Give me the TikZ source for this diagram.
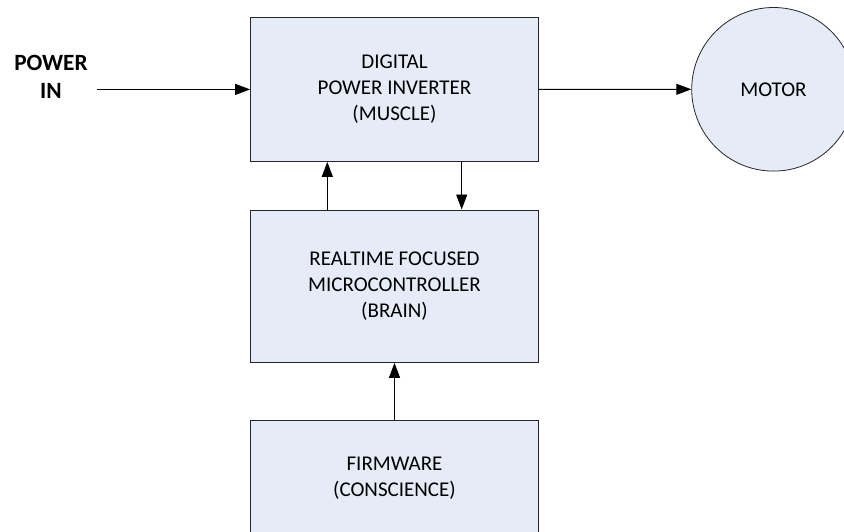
\documentclass[tikz,border=0pt]{standalone}
\usepackage{fontspec}
\setmainfont{Carlito}
\usetikzlibrary{arrows.meta}
\definecolor{blockfill}{RGB}{230,236,247}
\tikzset{
  block/.style={draw=black!85, line width=1.1pt, fill=blockfill, inner sep=0pt,
    minimum width=287.6pt, align=center, font=\fontsize{21}{26}\selectfont},
  disc/.style={circle, draw=black!85, line width=0.8pt, fill=blockfill, inner sep=0pt,
    minimum size=163.6pt, font=\fontsize{21}{26}\selectfont},
  flow/.style={line width=0.9pt, -{Triangle[length=15pt,width=11pt]}},
  heading/.style={align=center, font=\bfseries\fontsize{23.3}{28.3}\selectfont}
}
\begin{document}
\begin{tikzpicture}[x=1pt, y=-1pt]
  \useasboundingbox (0,0) rectangle (844,531);
  % blocks
  \node[block, minimum height=143.8pt] (inv) at (394.5,89.4) {DIGITAL\\POWER INVERTER\\(MUSCLE)};
  \node[block, minimum height=152.3pt] (brain) at (394.5,286.2) {REALTIME FOCUSED\\MICROCONTROLLER\\(BRAIN)};
  \node[block, minimum height=115.3pt] (fw) at (394.5,478.4) {FIRMWARE\\(CONSCIENCE)};
  \node[disc] (motor) at (773.5,89.3) {MOTOR};
  % input label
  \node[heading] (pwr) at (51,77) {POWER\\IN};
  \coordinate (pin) at (96.7,89.4);
  % connectors
  \draw[flow] (pin) -- (inv.west);
  \draw[flow] (inv.east) -- (motor.west);
  \draw[flow] ([xshift=-67.2pt]brain.north) -- ([xshift=-67.2pt]inv.south);
  \draw[flow] ([xshift=67.2pt]inv.south) -- ([xshift=67.2pt]brain.north);
  \draw[flow] (fw.north) -- (brain.south);
\end{tikzpicture}
\end{document}
